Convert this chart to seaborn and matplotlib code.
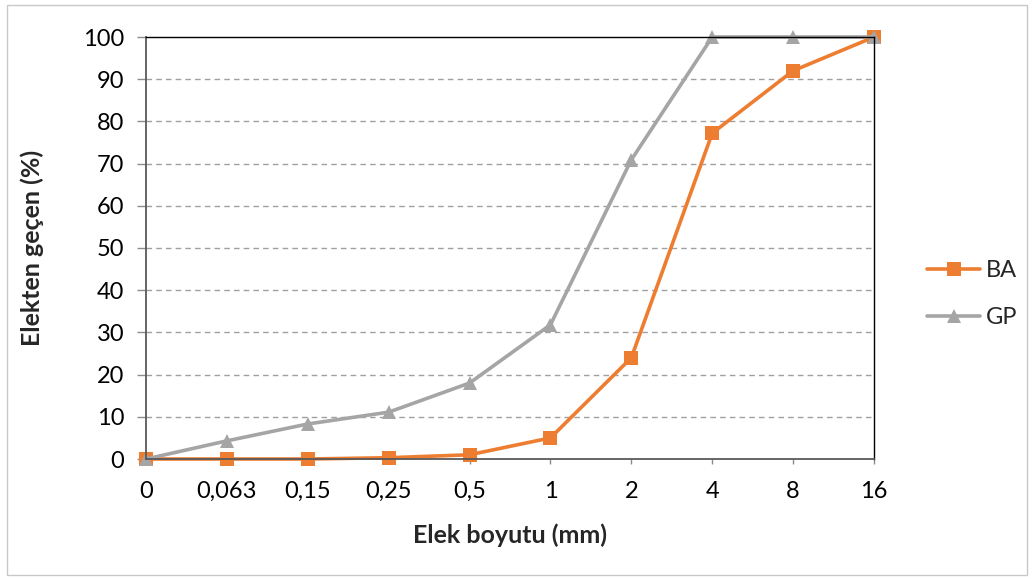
import pandas as pd
import matplotlib.pyplot as plt
import seaborn as sns
from matplotlib.patches import Rectangle

sieve_labels = ["0", "0,063", "0,15", "0,25", "0,5", "1", "2", "4", "8", "16"]
ba_values = [0, 0, 0, 0.3, 1, 5, 24, 77.2, 92, 100]
gp_values = [0, 4.3, 8.3, 11.1, 18, 31.8, 70.9, 100, 100, 100]

sns.set_theme(style="white")
plt.rcParams["font.family"] = ["Lato", "DejaVu Sans"]

df = pd.DataFrame({
    "pos": list(range(len(sieve_labels))) * 2,
    "value": ba_values + gp_values,
    "series": ["BA"] * len(ba_values) + ["GP"] * len(gp_values),
})

fig = plt.figure(figsize=(10.32, 5.79), dpi=100)
ax = fig.add_axes([146 / 1032, 1 - 459 / 579, (874 - 146) / 1032, (459 - 37) / 579])

sns.lineplot(data=df, x="pos", y="value", hue="series", style="series",
             palette={"BA": "#ed7d31", "GP": "#a5a5a5"},
             markers={"BA": "s", "GP": "^"}, dashes=False,
             linewidth=2.6, markersize=10.5, markeredgewidth=0, ax=ax, clip_on=False)

ax.set_xlim(0, len(sieve_labels) - 1)
ax.set_ylim(0, 100)
ax.set_xticks(range(len(sieve_labels)))
ax.set_xticklabels(sieve_labels)
ax.set_yticks(range(0, 101, 10))
for y in range(10, 100, 10):
    ax.axhline(y, color="#a0a0a0", linestyle=(0, (4, 3)), linewidth=1, zorder=0)

ax.tick_params(axis="both", which="both", direction="out", width=1,
               color="#8c8c8c", labelsize=17, labelcolor="black",
               bottom=True, left=True)
ax.tick_params(axis="y", length=6.5, pad=9)
ax.tick_params(axis="x", length=3.5, pad=12)
for side in ["top", "right"]:
    ax.spines[side].set_color("black")
    ax.spines[side].set_linewidth(1)
ax.spines["left"].set_color("#595959")
ax.spines["left"].set_linewidth(1.3)
ax.spines["bottom"].set_color("#595959")
ax.spines["bottom"].set_linewidth(1.3)

ax.set_xlabel("Elek boyutu (mm)", fontsize=18, fontweight="bold")
ax.set_ylabel("Elekten geçen (%)", fontsize=18, fontweight="bold")
ax.xaxis.set_label_coords((510 - 146) / 728, (459 - 535) / 422)
ax.xaxis.label.set_va("center")
ax.yaxis.set_label_coords((32 - 146) / 728, (459 - 248) / 422)
ax.yaxis.label.set_va("center")

handles, labels = ax.get_legend_handles_labels()
ax.legend(handles, labels, loc="center left", bbox_to_anchor=(927 / 1032, 1 - 294 / 579),
          bbox_transform=fig.transFigure, frameon=False, fontsize=17,
          handlelength=2.25, labelspacing=1.1, handletextpad=0.25,
          borderpad=0, borderaxespad=0)

fig.patches.append(Rectangle((7 / 1032, 4 / 579), 1 - 12 / 1032, 1 - 9 / 579,
                             transform=fig.transFigure, fill=False,
                             edgecolor="#c8c8c8", linewidth=1))

fig.savefig("out.png", dpi=100)
plt.close(fig)
